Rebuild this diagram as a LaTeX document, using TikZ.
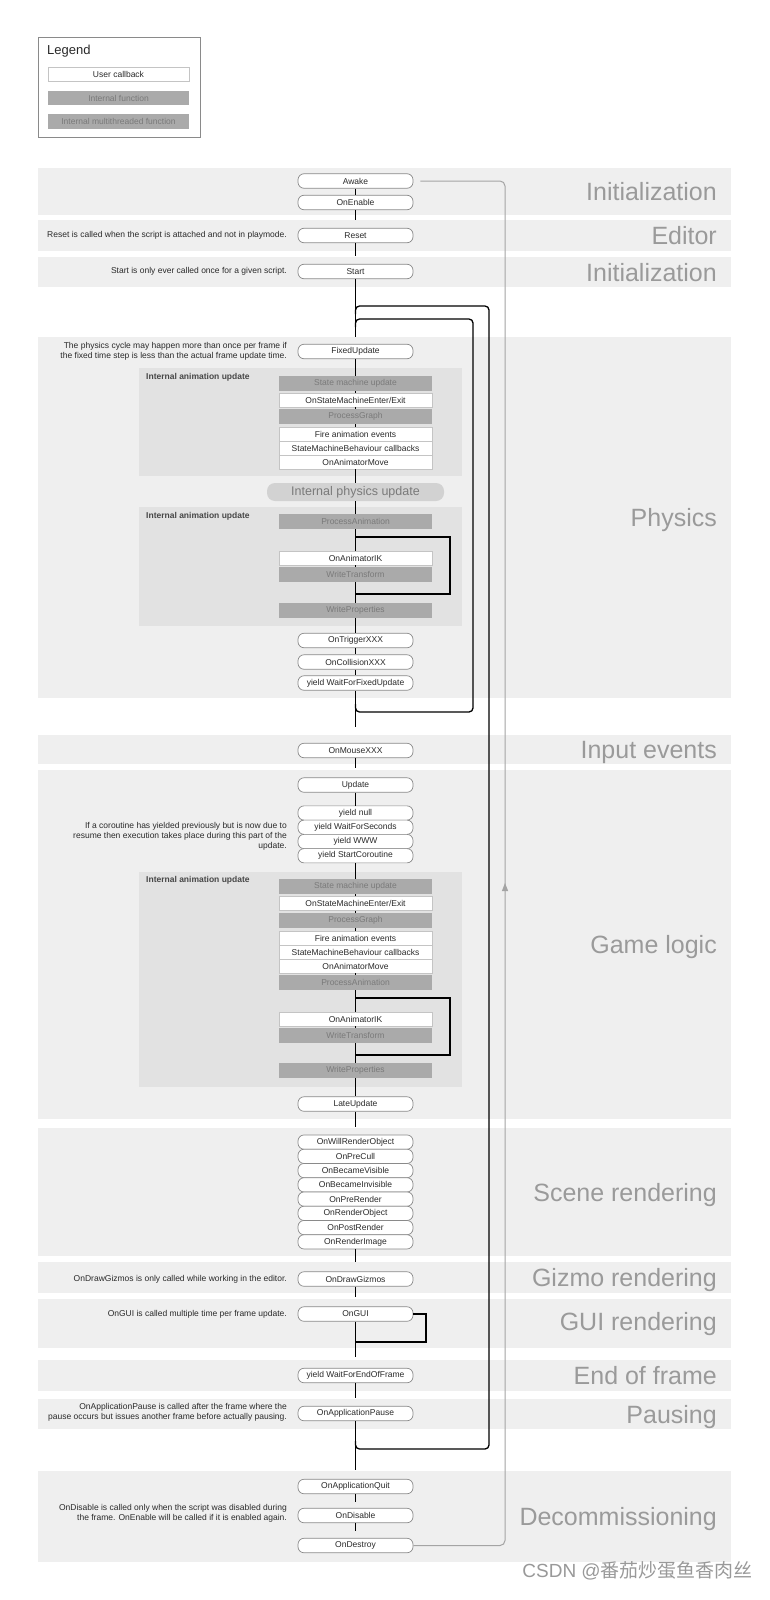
\documentclass[tikz,border=0pt]{standalone}
\usepackage{fontspec}
\setmainfont{Liberation Sans}
\newfontfamily\cjkfont{Noto Sans CJK SC}
\usetikzlibrary{arrows.meta,decorations.markings}
\definecolor{bandbg}{HTML}{EFEFEF}
\definecolor{animbg}{HTML}{E2E2E2}
\definecolor{intfill}{HTML}{AAAAAA}
\definecolor{inttext}{HTML}{7A7A7A}
\definecolor{bandtext}{HTML}{9A9A9A}
\definecolor{cbborder}{HTML}{8A8A8A}
\definecolor{wborder}{HTML}{C4C4C4}
\definecolor{txt}{HTML}{2A2A2A}
\definecolor{pillfill}{HTML}{D2D2D2}
\definecolor{awline}{HTML}{A4A4A4}
\definecolor{wmark}{HTML}{999999}
\tikzset{
  smallfont/.style={font=\fontsize{8.5}{10}\selectfont},
  cb/.style={draw=cbborder, line width=0.7pt, fill=white, rounded corners=6pt,
    minimum width=115pt, minimum height=14.5pt, inner sep=0pt, smallfont, text=txt},
  cbs/.style={cb, minimum height=14.25pt},
  ifn/.style={fill=intfill, minimum width=153pt, minimum height=15pt, inner sep=0pt,
    smallfont, text=inttext},
  wcb/.style={draw=wborder, line width=0.5pt, fill=white, minimum width=153pt,
    minimum height=14pt, inner sep=0pt, smallfont, text=txt},
  pill/.style={fill=pillfill, rounded corners=8pt, minimum width=177pt, minimum height=18pt,
    inner sep=0pt, font=\fontsize{12.5}{14}\selectfont, text=inttext},
  lgcb/.style={draw=wborder, line width=0.6pt, fill=white, minimum width=141pt,
    minimum height=14.5pt, inner sep=0pt, smallfont, text=txt},
  lgint/.style={fill=intfill, minimum width=141pt, minimum height=14.5pt, inner sep=0pt,
    smallfont, text=inttext},
  bandlabel/.style={anchor=base east, inner sep=0pt, font=\fontsize{25}{30}\selectfont, text=bandtext},
  comment/.style={anchor=east, align=right, inner sep=0pt, smallfont, text=txt},
  animlabel/.style={anchor=west, inner sep=0pt, font=\fontsize{8.5}{10}\selectfont\bfseries, text=black!72},
  conn/.style={draw=black, line width=1.3pt},
  loopline/.style={draw=black, line width=1.3pt},
  bandrect/.style={fill=bandbg},
  animrect/.style={fill=animbg},
}
\begin{document}
\begin{tikzpicture}[x=1pt,y=-1pt]
\useasboundingbox (0,0) rectangle (769,1600);
\fill[white] (0,0) rectangle (769,1600);

% ---------- bands ----------
\fill[bandrect] (38,168) rectangle (731,215);
\fill[bandrect] (38,220) rectangle (731,251);
\fill[bandrect] (38,257) rectangle (731,287);
\fill[bandrect] (38,337) rectangle (731,698);
\fill[bandrect] (38,735) rectangle (731,764);
\fill[bandrect] (38,770) rectangle (731,1119);
\fill[bandrect] (38,1128) rectangle (731,1256);
\fill[bandrect] (38,1262) rectangle (731,1293);
\fill[bandrect] (38,1299) rectangle (731,1348);
\fill[bandrect] (38,1360) rectangle (731,1391);
\fill[bandrect] (38,1399) rectangle (731,1429);
\fill[bandrect] (38,1471) rectangle (731,1562);

% ---------- internal animation boxes ----------
\fill[animrect] (139,368) rectangle (462,476);
\fill[animrect] (139,507) rectangle (462,626);
\fill[animrect] (139,872) rectangle (462,1087);
\node[animlabel] (al1) at (146,377) {Internal animation update};
\node[animlabel] (al2) at (146,516) {Internal animation update};
\node[animlabel] (al3) at (146,880) {Internal animation update};

% ---------- legend ----------
\draw[draw=cbborder, line width=0.8pt, fill=white] (38,37) rectangle (200,137);
\node[anchor=west, inner sep=0pt, font=\fontsize{13}{15}\selectfont, text=txt] (lgtitle) at (47,51) {Legend};
\node[lgcb] (lg1) at (118.5,74.5) {User callback};
\node[lgint] (lg2) at (118.5,98) {Internal function};
\node[lgint] (lg3) at (118.5,121.5) {Internal multithreaded function};

% ---------- band labels ----------
\node[bandlabel] (b1) at (717,200.5) {Initialization};
\node[bandlabel] (b2) at (717,244.5) {Editor};
\node[bandlabel] (b3) at (717,281) {Initialization};
\node[bandlabel] (b4) at (717,526.5) {Physics};
\node[bandlabel] (b5) at (717,758.5) {Input events};
\node[bandlabel] (b6) at (717,953.5) {Game logic};
\node[bandlabel] (b7) at (717,1201) {Scene rendering};
\node[bandlabel] (b8) at (717,1286.5) {Gizmo rendering};
\node[bandlabel] (b9) at (717,1330.5) {GUI rendering};
\node[bandlabel] (b10) at (717,1384.5) {End of frame};
\node[bandlabel] (b11) at (717,1423) {Pausing};
\node[bandlabel] (b12) at (717,1525.5) {Decommissioning};

% ---------- main column ----------
\node[cb] (awake) at (355.5,181) {Awake};
\node[cb] (enable) at (355.5,202.5) {OnEnable};
\node[cb] (reset) at (355.5,235.5) {Reset};
\node[cb] (start) at (355.5,271.5) {Start};
\node[cb] (fixed) at (355.5,351.5) {FixedUpdate};

\node[ifn] (sm1) at (355.5,383.5) {State machine update};
\node[wcb] (ent1) at (355.5,400) {OnStateMachineEnter/Exit};
\node[ifn] (pg1) at (355.5,416.5) {ProcessGraph};
\node[wcb] (fire1) at (355.5,434) {Fire animation events};
\node[wcb] (smb1) at (355.5,448) {StateMachineBehaviour callbacks};
\node[wcb] (move1) at (355.5,462) {OnAnimatorMove};

\node[pill] (phys) at (355.5,492) {Internal physics update};

\node[ifn] (pa2) at (355.5,521.5) {ProcessAnimation};
\node[wcb] (ik2) at (355.5,558) {OnAnimatorIK};
\node[ifn] (wt2) at (355.5,574.5) {WriteTransform};
\node[ifn] (wp2) at (355.5,610.5) {WriteProperties};

\node[cb] (trig) at (355.5,640.5) {OnTriggerXXX};
\node[cb] (coll) at (355.5,662) {OnCollisionXXX};
\node[cb] (wffu) at (355.5,683) {yield WaitForFixedUpdate};

\node[cb] (mouse) at (355.5,750.5) {OnMouseXXX};
\node[cb] (update) at (355.5,785) {Update};
\node[cbs] (ynull) at (355.5,813) {yield null};
\node[cbs] (ysec) at (355.5,827.25) {yield WaitForSeconds};
\node[cbs] (ywww) at (355.5,841.5) {yield WWW};
\node[cbs] (ycor) at (355.5,855.75) {yield StartCoroutine};

\node[ifn] (sm3) at (355.5,886.5) {State machine update};
\node[wcb] (ent3) at (355.5,903.5) {OnStateMachineEnter/Exit};
\node[ifn] (pg3) at (355.5,920.5) {ProcessGraph};
\node[wcb] (fire3) at (355.5,938) {Fire animation events};
\node[wcb] (smb3) at (355.5,952) {StateMachineBehaviour callbacks};
\node[wcb] (move3) at (355.5,966) {OnAnimatorMove};
\node[ifn] (pa3) at (355.5,982.5) {ProcessAnimation};
\node[wcb] (ik3) at (355.5,1019) {OnAnimatorIK};
\node[ifn] (wt3) at (355.5,1035.5) {WriteTransform};
\node[ifn] (wp3) at (355.5,1070.5) {WriteProperties};

\node[cb] (late) at (355.5,1104) {LateUpdate};

\node[cbs] (sc1) at (355.5,1142.1) {OnWillRenderObject};
\node[cbs] (sc2) at (355.5,1156.35) {OnPreCull};
\node[cbs] (sc3) at (355.5,1170.6) {OnBecameVisible};
\node[cbs] (sc4) at (355.5,1184.85) {OnBecameInvisible};
\node[cbs] (sc5) at (355.5,1199.1) {OnPreRender};
\node[cbs] (sc6) at (355.5,1213.35) {OnRenderObject};
\node[cbs] (sc7) at (355.5,1227.6) {OnPostRender};
\node[cbs] (sc8) at (355.5,1241.85) {OnRenderImage};

\node[cb] (gizmo) at (355.5,1279) {OnDrawGizmos};
\node[cb] (gui) at (355.5,1314) {OnGUI};
\node[cb] (eof) at (355.5,1375.5) {yield WaitForEndOfFrame};
\node[cb] (pause) at (355.5,1413.5) {OnApplicationPause};
\node[cb] (quit) at (355.5,1486.5) {OnApplicationQuit};
\node[cb] (disable) at (355.5,1515.5) {OnDisable};
\node[cb] (destroy) at (355.5,1545.5) {OnDestroy};

% ---------- comments ----------
\node[comment] (cReset) at (287,235.5) {Reset is called when the script is attached and not in playmode.};
\node[comment] (cStart) at (287,271.5) {Start is only ever called once for a given script.};
\node[comment] (cPhys) at (287,351.5) {The physics cycle may happen more than once per frame if\\the fixed time step is less than the actual frame update time.};
\node[comment] (cCor) at (287,836) {If a coroutine has yielded previously but is now due to\\resume then execution takes place during this part of the\\update.};
\node[comment] (cGiz) at (287,1279) {OnDrawGizmos is only called while working in the editor.};
\node[comment] (cGui) at (287,1314) {OnGUI is called multiple time per frame update.};
\node[comment] (cPause) at (287,1412.5) {OnApplicationPause is called after the frame where the\\pause occurs but issues another frame before actually pausing.};
\node[comment] (cDis) at (287,1513) {OnDisable is called only when the script was disabled during\\the frame. OnEnable will be called if it is enabled again.};

% ---------- connectors ----------
\draw[conn] (awake) -- (enable);
\draw[conn, shorten >=7.5pt] (enable) -- (reset);
\draw[conn, shorten >=7.5pt] (reset) -- (start);
\draw[conn, shorten >=7pt] (start) -- (fixed);
\draw[conn] (fixed) -- (sm1);
\draw[conn] (sm1) -- (ent1);
\draw[conn] (ent1) -- (pg1);
\draw[conn] (pg1) -- (fire1);
\draw[conn] (move1) -- (phys);
\draw[conn] (phys) -- (pa2);
\draw[conn] (pa2) -- (ik2);
\draw[conn] (ik2) -- (wt2);
\draw[conn] (wt2) -- (wp2);
\draw[conn] (wp2) -- (trig);
\draw[conn] (trig) -- (coll);
\draw[conn] (coll) -- (wffu);
\draw[conn, shorten >=16pt] (wffu) -- (mouse);
\draw[conn, shorten >=9pt] (mouse) -- (update);
\draw[conn] (update) -- (ynull);
\draw[conn] (ycor) -- (sm3);
\draw[conn] (sm3) -- (ent3);
\draw[conn] (ent3) -- (pg3);
\draw[conn] (pg3) -- (fire3);
\draw[conn] (move3) -- (pa3);
\draw[conn] (pa3) -- (ik3);
\draw[conn] (ik3) -- (wt3);
\draw[conn] (wt3) -- (wp3);
\draw[conn] (wp3) -- (late);
\draw[conn, shorten >=8pt] (late) -- (sc1);
\draw[conn, shorten >=9pt] (sc8) -- (gizmo);
\draw[conn, shorten >=9pt] (gizmo) -- (gui);
\draw[conn, shorten >=11pt] (gui) -- (eof);
\draw[conn, shorten >=8pt] (eof) -- (pause);
\draw[conn, shorten >=9pt] (pause) -- (quit);
\draw[conn, shorten >=6pt] (quit) -- (disable);
\draw[conn, shorten >=7pt] (disable) -- (destroy);

% ---------- animation IK loops ----------
\coordinate (a2s) at (355.5,537);
\coordinate (a2a) at (450,537);
\coordinate (a2b) at (450,594);
\coordinate (a2e) at (355.5,594);
\draw[loopline] (a2s) -- (a2a) -- (a2b) -- (a2e);
\coordinate (a3s) at (355.5,998);
\coordinate (a3a) at (450,998);
\coordinate (a3b) at (450,1055);
\coordinate (a3e) at (355.5,1055);
\draw[loopline] (a3s) -- (a3a) -- (a3b) -- (a3e);

% ---------- OnGUI loop ----------
\coordinate (g1) at (426,1314);
\coordinate (g2) at (426,1342);
\coordinate (g3) at (355.5,1342);
\draw[loopline] (gui.east) -- (g1) -- (g2) -- (g3);

% ---------- physics loop ----------
\coordinate (ph0) at (355.5,704);
\coordinate (ph1) at (355.5,712);
\coordinate (ph2) at (473,712);
\coordinate (ph3) at (473,319);
\coordinate (ph4) at (355.5,319);
\coordinate (ph5) at (355.5,327);
\draw[loopline, rounded corners=4pt] (ph0) -- (ph1) -- (ph2) -- (ph3) -- (ph4) -- (ph5);

% ---------- frame loop ----------
\coordinate (fr0) at (355.5,1441);
\coordinate (fr1) at (355.5,1449);
\coordinate (fr2) at (489,1449);
\coordinate (fr3) at (489,306);
\coordinate (fr4) at (355.5,306);
\coordinate (fr5) at (355.5,314);
\draw[loopline, rounded corners=4pt] (fr0) -- (fr1) -- (fr2) -- (fr3) -- (fr4) -- (fr5);

% ---------- lifecycle line (destroy back to awake) ----------
\coordinate (aw1) at (505,1545.5);
\coordinate (aw2) at (505,181);
\draw[draw=awline, line width=1pt, rounded corners=5pt, shorten >=7pt,
  decoration={markings, mark=at position 752pt with {\arrow[awline]{Triangle[width=6pt,length=8pt]}}},
  postaction={decorate}]
  (destroy.east) -- (aw1) -- (aw2) -- (awake.east);

% ---------- watermark ----------
\node[anchor=east, inner sep=0pt, font=\fontsize{19}{22}\selectfont, text=wmark] (wm) at (753,1571) {CSDN @{\cjkfont 番茄炒蛋鱼香肉丝}};
\end{tikzpicture}
\end{document}
